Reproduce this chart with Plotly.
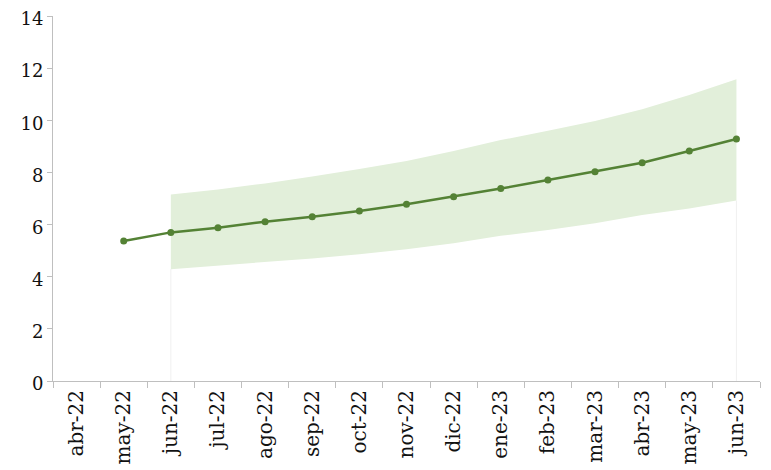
import plotly.graph_objects as go

categories = ["abr-22", "may-22", "jun-22", "jul-22", "ago-22", "sep-22", "oct-22",
              "nov-22", "dic-22", "ene-23", "feb-23", "mar-23", "abr-23", "may-23", "jun-23"]

line_cats = categories[1:]
line_vals = [5.37, 5.70, 5.88, 6.11, 6.30, 6.52, 6.78, 7.07, 7.38, 7.71, 8.03, 8.37, 8.82, 9.28]

band_cats = categories[2:]
band_upper = [7.15, 7.35, 7.58, 7.84, 8.13, 8.44, 8.82, 9.24, 9.60, 9.97, 10.42, 10.97, 11.57]
band_lower = [4.29, 4.42, 4.55, 4.70, 4.86, 5.05, 5.28, 5.57, 5.79, 6.05, 6.37, 6.62, 6.92]

y_ticks = [0, 2, 4, 6, 8, 10, 12, 14]

LINE = "#548235"
BAND = "#e2efda"
AXIS = "#bfbfbf"
FONT = "DejaVu Serif"

fig = go.Figure()

# faint edges of the band's base area
for c, lo in [(band_cats[0], band_lower[0]), (band_cats[-1], band_lower[-1])]:
    fig.add_trace(go.Scatter(x=[c, c], y=[0, lo], mode="lines",
                             line=dict(color="#f0f0f0", width=1),
                             hoverinfo="skip", showlegend=False))

fig.add_trace(go.Scatter(x=band_cats, y=band_lower, mode="lines",
                         line=dict(width=0, color=BAND), showlegend=False,
                         hoverinfo="skip"))
fig.add_trace(go.Scatter(x=band_cats, y=band_upper, mode="lines",
                         line=dict(width=0, color=BAND), fill="tonexty",
                         fillcolor=BAND, showlegend=False, hoverinfo="skip"))

fig.add_trace(go.Scatter(x=line_cats, y=line_vals, mode="lines+markers",
                         line=dict(color=LINE, width=2.5),
                         marker=dict(color=LINE, size=7), showlegend=False))

fig.update_layout(
    width=763, height=462,
    margin=dict(l=45, r=11, t=8, b=89),
    paper_bgcolor="white", plot_bgcolor="white",
    font=dict(family=FONT, size=15, color="#111111"),
)
fig.update_xaxes(
    type="category", categoryorder="array", categoryarray=categories,
    range=[-0.5, len(categories) - 0.5], automargin=False,
    showline=True, linecolor=AXIS, linewidth=1,
    ticks="outside", tickson="boundaries", ticklen=6, tickcolor=AXIS,
    tickangle=-90, showgrid=False, zeroline=False, ticklabeloverflow="allow",
    tickfont=dict(family=FONT, size=20, color="#111111"),
)
fig.update_yaxes(
    range=[0, 14], tickvals=y_ticks, ticktext=[str(v) for v in y_ticks],
    automargin=False, ticklabeloverflow="allow", ticklabelshift=3,
    showline=True, linecolor=AXIS, linewidth=1,
    ticks="outside", ticklen=5, tickcolor=AXIS,
    showgrid=False, zeroline=False,
    tickfont=dict(family=FONT, size=18, color="#111111"),
)

fig.write_html("out.html")
